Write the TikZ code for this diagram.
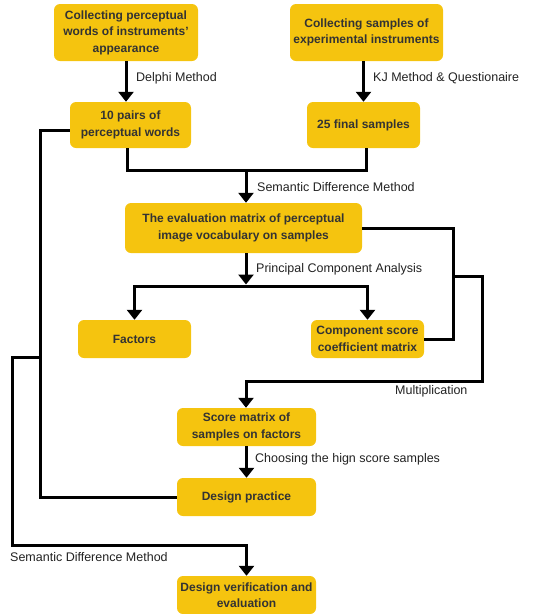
\documentclass[tikz,border=0pt]{standalone}
\usepackage{fontspec}
\setmainfont{Liberation Sans}
\usetikzlibrary{arrows.meta,calc}
\definecolor{boxyellow}{HTML}{F5C40F}
\definecolor{boxtext}{HTML}{333333}
\definecolor{labeltext}{HTML}{222222}
\tikzset{
  stepbox/.style={fill=boxyellow, draw=none, rounded corners=6pt, align=center,
    text=boxtext, font=\fontsize{12}{16.5}\selectfont\bfseries, inner sep=0pt},
  conn/.style={line width=3pt, draw=black},
  arr/.style={conn, -{Triangle[width=15pt,length=10pt]}},
  lbl/.style={font=\fontsize{12.5}{15}\selectfont, text=labeltext, inner sep=0pt, anchor=west}
}
\begin{document}
\begin{tikzpicture}[x=1pt,y=-1pt]
\useasboundingbox (0,0) rectangle (533,614);
% boxes
\node[stepbox, minimum width=144pt, minimum height=57pt] (A) at (126,32.5) {Collecting perceptual\\words of instruments'\\appearance};
\node[stepbox, minimum width=153pt, minimum height=57pt] (B) at (366.5,32.5) {Collecting samples of\\experimental instruments};
\node[stepbox, minimum width=121pt, minimum height=46pt] (C) at (130.5,125) {10 pairs of\\perceptual words};
\node[stepbox, minimum width=113pt, minimum height=46pt] (D) at (363.5,125) {25 final samples};
\node[stepbox, minimum width=237pt, minimum height=50pt] (E) at (243.5,228) {The evaluation matrix of perceptual\\image vocabulary on samples};
\node[stepbox, minimum width=113pt, minimum height=38pt] (F) at (134.5,339) {Factors};
\node[stepbox, minimum width=113pt, minimum height=38pt] (G) at (367.5,339) {Component score\\coefficient matrix};
\node[stepbox, minimum width=139pt, minimum height=38pt] (H) at (246.5,427) {Score matrix of\\samples on factors};
\node[stepbox, minimum width=139pt, minimum height=38pt] (I) at (246.5,497) {Design practice};
\node[stepbox, minimum width=139pt, minimum height=38pt] (J) at (246.5,595) {Design verification and\\evaluation};
% coordinates
\coordinate (m1) at (246,170);
\coordinate (p) at (246,286);
\coordinate (k1) at (453,276);
\coordinate (k2) at (246,381);
\coordinate (v1) at (40,130);
\coordinate (w1) at (40,357);
\coordinate (w2) at (12,545);
% connectors
\draw[arr] (A.south) -- (A.south |- C.north);
\draw[arr] (D.north |- B.south) -- (D.north);
\draw[conn] ([xshift=-3.5pt]C.south) |- (m1);
\draw[conn] ([xshift=2.5pt]D.south) |- (m1);
\draw[arr] (m1) -- (m1 |- E.north);
\draw[arr] (E.south -| p) -- ([yshift=1.5pt]p);
\draw[arr] (p) -| (F.north);
\draw[arr] (p) -| (G.north);
\draw[conn] (E.east) -- ++(91,0) |- (G.east);
\draw[arr] (k1) -- ++(29,0) |- (k2) -- (k2 |- H.north);
\draw[arr] (H.south) -- (I.north);
\draw[conn] (I.west) -| (v1) -- (v1 -| C.west);
\draw[arr] (w1) -- (w1 -| w2) -- (w2) -- (w2 -| J.north) -- (J.north);
% labels
\node[lbl] (l1) at (136,78) {Delphi Method};
\node[lbl] (l2) at (373,78) {KJ Method \& Questionaire};
\node[lbl] (l3) at (257,187) {Semantic Difference Method};
\node[lbl] (l4) at (256,269) {Principal Component Analysis};
\node[lbl] (l5) at (395,391) {Multiplication};
\node[lbl] (l6) at (255,459) {Choosing the hign score samples};
\node[lbl] (l7) at (10,557) {Semantic Difference Method};
\end{tikzpicture}
\end{document}
